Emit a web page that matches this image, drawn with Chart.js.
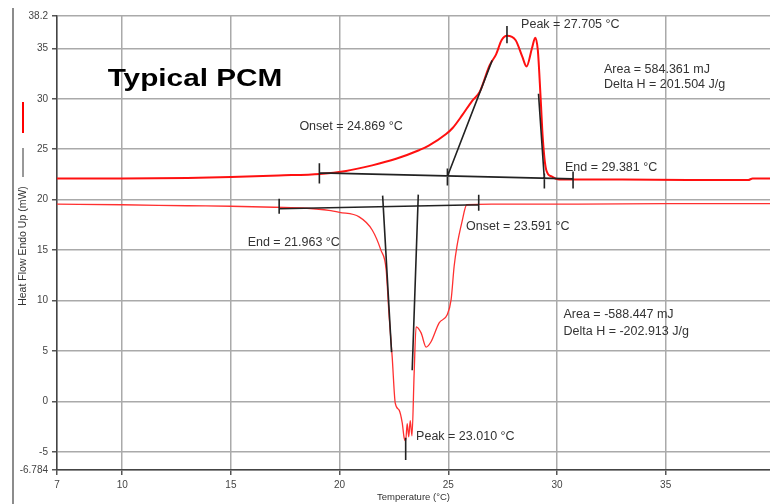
<!DOCTYPE html>
<html lang="en">
<head>
  <meta charset="UTF-8">
  <title>Typical PCM - DSC</title>
  <script src="https://cdn.jsdelivr.net/npm/chart.js"></script>
  <style>
    html, body {
      margin: 0;
      padding: 0;
      background: #fff;
    }
    #wrap {
      width: 770px;
      height: 504px;
      position: relative;
    }
  </style>
</head>
<body>
  <div id="wrap"><canvas id="dsc" width="770" height="504"></canvas></div>

  <script>
    // heating run (endo up)
    const heatTemp = [7, 10, 13, 15, 17.2, 19.1, 20.3, 21.5, 22.6, 23.65, 24.1, 24.9, 25.2, 25.65, 26.1, 26.45, 26.9, 27.2, 27.45, 27.7, 28.1, 28.4, 28.6, 28.85, 29.0, 29.12, 29.25, 29.35, 29.5, 29.75, 30.1, 33, 36, 38.8, 39.0, 39.8];
    const heatFlow = [22.1, 22.1, 22.15, 22.25, 22.4, 22.55, 22.85, 23.4, 24.05, 24.9, 25.35, 26.5, 27.1, 28.4, 29.8, 30.7, 33.3, 34.4, 35.8, 36.25, 35.8, 34.2, 33.2, 35.0, 36.05, 34.8, 30.0, 26.0, 23.0, 22.3, 22.0, 22.0, 21.95, 21.95, 22.1, 22.1];

    // cooling run
    const coolTemp = [7, 10, 13, 15, 17, 18.5, 19.5, 20.0, 20.9, 21.5, 21.9, 22.14, 22.28, 22.42, 22.56, 22.74, 22.88, 22.97, 23.04, 23.11, 23.18, 23.25, 23.33, 23.43, 23.52, 23.75, 23.98, 24.2, 24.58, 24.95, 25.13, 25.27, 25.4, 25.63, 25.85, 27, 31, 35, 39.8];
    const coolFlow = [19.55, 19.5, 19.4, 19.35, 19.25, 19.15, 18.95, 18.75, 18.3, 17.0, 15.0, 13.1, 8.4, 4.4, -0.15, -0.85, -2.1, -3.6, -3.9, -2.2, -3.5, -1.9, -3.4, 2.8, 7.4, 6.8, 5.4, 5.9, 7.8, 8.6, 10.1, 13.4, 15.4, 17.8, 19.5, 19.55, 19.55, 19.6, 19.6];

    // analysis lines [t1, hf1, t2, hf2]
    const heatLines = [
      [19.07, 22.66, 30.74, 22.06],
      [24.95, 22.25, 27.02, 33.8],
      [29.15, 30.5, 29.42, 22.0],
      [19.07, 23.6, 19.07, 21.6],
      [24.96, 23.1, 24.96, 21.4],
      [29.42, 22.6, 29.42, 21.1],
      [30.74, 22.8, 30.74, 21.1],
      [27.7, 37.2, 27.7, 35.5]
    ];
    const coolLines = [
      [17.22, 19.1, 26.4, 19.5],
      [21.98, 20.4, 22.39, 4.9],
      [23.62, 20.5, 23.34, 3.1],
      [17.22, 20.1, 17.22, 18.6],
      [26.4, 20.5, 26.4, 18.9],
      [23.04, -3.6, 23.04, -5.8]
    ];

    const xTicks = [7, 10, 15, 20, 25, 30, 35];
    const yTicks = [-6.784, -5, 0, 5, 10, 15, 20, 25, 30, 35, 38.2];

    // text labels [temperature, heat flow, text]
    const notes = [
      [28.35, 37.4, 'Peak = 27.705 °C'],
      [18.15, 27.2, 'Onset = 24.869 °C'],
      [30.37, 23.2, 'End = 29.381 °C'],
      [32.16, 32.9, 'Area = 584.361 mJ'],
      [32.16, 31.4, 'Delta H = 201.504 J/g'],
      [15.77, 15.75, 'End = 21.963 °C'],
      [25.82, 17.35, 'Onset = 23.591 °C'],
      [30.3, 8.6, 'Area = -588.447 mJ'],
      [30.3, 6.9, 'Delta H = -202.913 J/g'],
      [23.52, -3.5, 'Peak = 23.010 °C']
    ];

    function toPoints(xs, ys) {
      return xs.map((x, i) => ({ x: x, y: ys[i] }));
    }

    function toSegments(list) {
      const out = [];
      list.forEach(s => {
        out.push({ x: s[0], y: s[1] }, { x: s[2], y: s[3] }, { x: s[2], y: null });
      });
      return out;
    }

    const FONT = 'Liberation Sans, Arial, sans-serif';

    const decor = {
      id: 'decor',
      afterDraw(chart) {
        const ctx = chart.ctx;
        const xs = chart.scales.x, ys = chart.scales.y;
        const area = chart.chartArea;
        ctx.save();

        // outer frame line on the left
        ctx.strokeStyle = '#666';
        ctx.lineWidth = 1.5;
        ctx.beginPath();
        ctx.moveTo(13, 8);
        ctx.lineTo(13, 504);
        ctx.stroke();

        // y axis title with series marks
        ctx.save();
        ctx.translate(23, 246);
        ctx.rotate(-Math.PI / 2);
        ctx.fillStyle = '#333';
        ctx.font = '10.5px ' + FONT;
        ctx.textAlign = 'center';
        ctx.textBaseline = 'middle';
        ctx.fillText('Heat Flow Endo Up (mW)', 0, 0);
        ctx.restore();

        ctx.strokeStyle = '#333';
        ctx.lineWidth = 1;
        ctx.beginPath();
        ctx.moveTo(23, 148);
        ctx.lineTo(23, 177);
        ctx.stroke();

        ctx.strokeStyle = '#ff0000';
        ctx.lineWidth = 2;
        ctx.beginPath();
        ctx.moveTo(23, 102);
        ctx.lineTo(23, 133);
        ctx.stroke();

        // x axis title
        ctx.fillStyle = '#333';
        ctx.font = '9.5px ' + FONT;
        ctx.textAlign = 'center';
        ctx.textBaseline = 'middle';
        ctx.fillText('Temperature (°C)', (area.left + area.right) / 2, 497);

        // annotations
        ctx.font = '12.5px ' + FONT;
        ctx.textAlign = 'left';
        ctx.fillStyle = '#333';
        notes.forEach(n => {
          ctx.fillText(n[2], xs.getPixelForValue(n[0]), ys.getPixelForValue(n[1]));
        });

        // big title
        ctx.save();
        ctx.translate(xs.getPixelForValue(9.33), ys.getPixelForValue(31.9));
        ctx.scale(1.24, 1);
        ctx.font = 'bold 24px ' + FONT;
        ctx.fillStyle = '#000';
        ctx.fillText('Typical PCM', 0, 0);
        ctx.restore();

        ctx.restore();
      }
    };

    new Chart(document.getElementById('dsc'), {
      type: 'line',
      data: {
        datasets: [
          {
            label: 'analysis',
            data: toSegments(heatLines.concat(coolLines)),
            borderColor: '#222',
            borderWidth: 1.6,
            pointRadius: 0,
            tension: 0,
            spanGaps: false,
            order: 0
          },
          {
            label: 'heating',
            data: toPoints(heatTemp, heatFlow),
            borderColor: '#ff1010',
            borderWidth: 2,
            pointRadius: 0,
            cubicInterpolationMode: 'monotone',
            order: 1
          },
          {
            label: 'cooling',
            data: toPoints(coolTemp, coolFlow),
            borderColor: '#ff3030',
            borderWidth: 1.3,
            pointRadius: 0,
            cubicInterpolationMode: 'monotone',
            order: 1
          }
        ]
      },
      options: {
        responsive: false,
        animation: false,
        layout: { padding: { top: 16, left: 0, right: 0, bottom: 0 } },
        plugins: {
          legend: { display: false },
          tooltip: { enabled: false }
        },
        scales: {
          x: {
            type: 'linear',
            min: 7,
            max: 39.8,
            afterBuildTicks: s => { s.ticks = xTicks.map(v => ({ value: v })); },
            afterFit: s => { s.height = 34; },
            ticks: {
              color: '#444',
              font: { size: 10, family: FONT },
              padding: 4,
              maxRotation: 0,
              callback: v => String(v)
            },
            grid: { color: '#aaa', lineWidth: 1.5, tickLength: 5, tickColor: '#555' },
            border: { color: '#444', width: 1.5 }
          },
          y: {
            type: 'linear',
            min: -6.784,
            max: 38.2,
            afterBuildTicks: s => { s.ticks = yTicks.map(v => ({ value: v })); },
            afterFit: s => { s.width = 57; },
            ticks: {
              color: '#444',
              font: { size: 10, family: FONT },
              padding: 4,
              callback: v => String(v)
            },
            grid: { color: '#aaa', lineWidth: 1.5, tickLength: 5, tickColor: '#555' },
            border: { color: '#444', width: 1.5 }
          }
        }
      },
      plugins: [decor]
    });
  </script>
</body>
</html>
